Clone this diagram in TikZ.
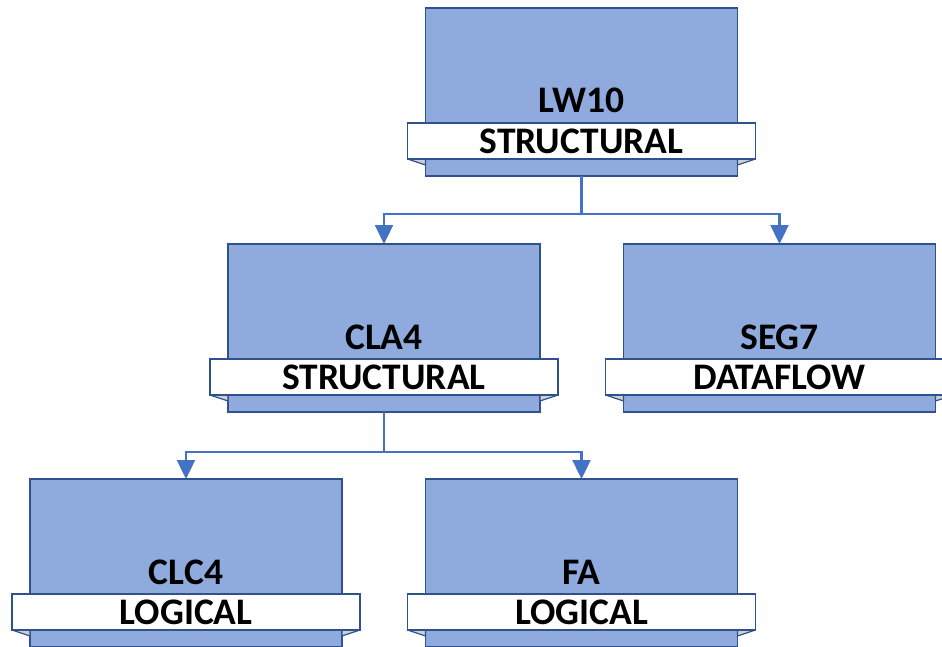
\documentclass[tikz,border=0pt]{standalone}
\usepackage{fontspec}
\setmainfont{Carlito}
\usetikzlibrary{arrows.meta}
\definecolor{boxfill}{HTML}{8FAADC}
\definecolor{boxline}{HTML}{2F528F}
\definecolor{connc}{HTML}{4472C4}
\definecolor{foldc}{HTML}{D0D0D0}
\tikzset{
  unitbox/.style={draw=boxline, fill=boxfill, line width=1.5pt, minimum width=312pt, minimum height=168pt, inner sep=0pt, outer sep=0pt},
  namelabel/.style={inner sep=0pt, font=\fontsize{37.5}{41}\selectfont\bfseries},
  banner/.style={draw=boxline, fill=white, line width=1.8pt, minimum width=348pt, minimum height=36pt, inner sep=0pt, outer sep=0pt, font=\fontsize{37.5}{41}\selectfont\bfseries},
  connline/.style={draw=connc, line width=2.4pt, -{Triangle[length=19pt,width=18pt]}},
  plainconn/.style={draw=connc, line width=2.4pt}
}
\newcommand\tunit[5]{%
  \node[unitbox, anchor=north] (#1) at (#2,#3) {};
  \node[namelabel, anchor=base] (#1-name) at (#2,#3+105) {#4};
  \fill[foldc] (#2-174,#3+151) -- (#2-156,#3+151) -- (#2-156,#3+157) -- cycle;
  \draw[boxline, line width=1.2pt] (#2-174,#3+151) -- (#2-156,#3+157) -- (#2-156,#3+151);
  \fill[foldc] (#2+174,#3+151) -- (#2+156,#3+151) -- (#2+156,#3+157) -- cycle;
  \draw[boxline, line width=1.2pt] (#2+174,#3+151) -- (#2+156,#3+157) -- (#2+156,#3+151);
  \node[banner, anchor=north] (#1-ban) at (#2,#3+115) {#5};
}
\begin{document}
\begin{tikzpicture}[x=1pt,y=-1pt]
\useasboundingbox (0,0) rectangle (942,647);
\clip (0,0) rectangle (942,647);
\tunit{lw}{581.5}{8}{LW10}{STRUCTURAL}
\tunit{cla}{384}{244}{CLA4}{STRUCTURAL}
\tunit{seg}{779.5}{244}{SEG7}{DATAFLOW}
\tunit{clc}{186}{479}{CLC4}{LOGICAL}
\tunit{fa}{581.5}{479}{FA}{LOGICAL}
\draw[plainconn] (lw.south) -- ++(0,38) coordinate (j1);
\draw[connline] (j1) -| (cla.north);
\draw[connline] (j1) -| (seg.north);
\draw[plainconn] (cla.south) -- ++(0,40) coordinate (j2);
\draw[connline] (j2) -| (clc.north);
\draw[connline] (j2) -| (fa.north);
\end{tikzpicture}
\end{document}
